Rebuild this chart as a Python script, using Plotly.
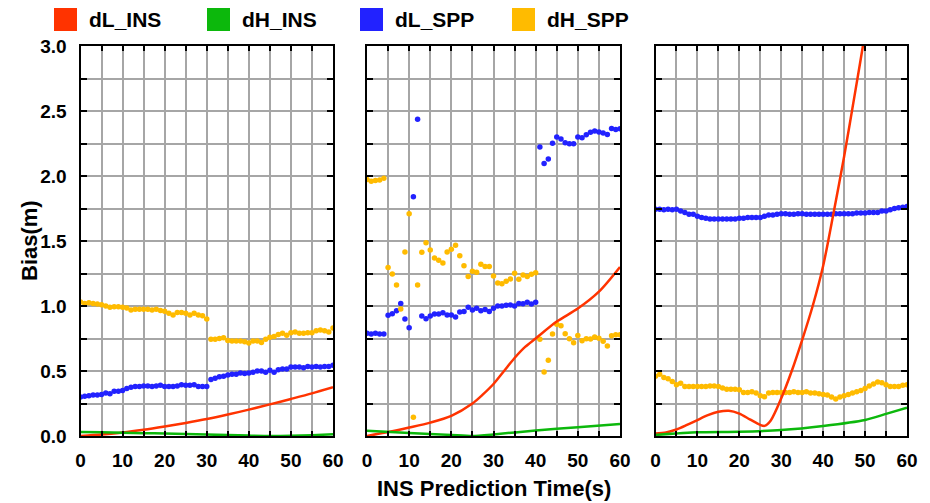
import plotly.graph_objects as go

# ---------------- data ----------------
t_spp = list(range(61))

# Panel 1
p1_dL_spp = [0.30, 0.305, 0.31, 0.315, 0.315, 0.32, 0.33, 0.325, 0.345, 0.345,
             0.35, 0.365, 0.375, 0.38, 0.38, 0.385, 0.385, 0.38, 0.385, 0.39,
             0.38, 0.38, 0.38, 0.385, 0.395, 0.39, 0.39, 0.395, 0.38, 0.38,
             0.38, 0.435, 0.445, 0.455, 0.46, 0.47, 0.475, 0.475, 0.485, 0.48,
             0.485, 0.49, 0.50, 0.50, 0.49, 0.505, 0.49, 0.51, 0.515, 0.515,
             0.53, 0.53, 0.53, 0.525, 0.535, 0.53, 0.535, 0.53, 0.535, 0.535,
             0.545]
p1_dH_spp = [1.03, 1.02, 1.025, 1.02, 1.015, 1.01, 1.0, 0.99, 0.995, 0.995,
             0.99, 0.985, 0.97, 0.975, 0.975, 0.975, 0.975, 0.97, 0.975, 0.965,
             0.96, 0.945, 0.93, 0.95, 0.95, 0.945, 0.93, 0.945, 0.93, 0.925,
             0.90, 0.745, 0.745, 0.75, 0.755, 0.735, 0.73, 0.73, 0.73, 0.725,
             0.715, 0.73, 0.73, 0.72, 0.745, 0.76, 0.765, 0.78, 0.79, 0.775,
             0.795, 0.80, 0.79, 0.79, 0.795, 0.795, 0.81, 0.815, 0.81, 0.80,
             0.83]
p1_t_ins = [0, 5, 10, 15, 20, 25, 30, 35, 40, 45, 50, 55, 60]
p1_dL_ins = [0.0, 0.012, 0.027, 0.048, 0.073, 0.10, 0.13, 0.165, 0.203, 0.243, 0.285, 0.328, 0.375]
p1_dH_ins = [0.03, 0.028, 0.025, 0.022, 0.019, 0.015, 0.011, 0.007, 0.003, 0.0, 0.002, 0.006, 0.013]

# Panel 2
p2_dL_spp = [0.79, 0.785, 0.79, 0.785, 0.785, 0.928, 0.94, 0.964, 1.02, 0.90,
             0.833, 1.84, 2.436, 0.923, 0.902, 0.923, 0.938, 0.938, 0.949, 0.93,
             0.93, 0.915, 0.954, 0.957, 0.99, 0.969, 0.982, 0.964, 0.974, 0.957,
             0.982, 1.0, 1.0, 1.005, 1.008, 1.0, 1.02, 1.018, 1.028, 1.015,
             1.028, 2.223, 2.097, 2.131, 2.251, 2.30, 2.285, 2.256, 2.248, 2.248,
             2.30, 2.295, 2.318, 2.336, 2.346, 2.338, 2.331, 2.32, 2.366, 2.358,
             2.363]
p2_dH_spp = [1.974, 1.96, 1.965, 1.97, 1.982, 1.297, 1.246, 1.162, 0.977, 1.415,
             1.71, 0.144, 1.162, 1.413, 1.487, 1.431, 1.369, 1.351, 1.331, 1.415,
             1.436, 1.467, 1.387, 1.31, 1.226, 1.267, 1.26, 1.321, 1.303, 1.303,
             1.231, 1.177, 1.172, 1.19, 1.208, 1.251, 1.205, 1.238, 1.226, 1.244,
             1.256, 0.744, 0.492, 0.582, 0.785, 0.859, 0.849, 0.787, 0.749, 0.718,
             0.774, 0.733, 0.749, 0.746, 0.762, 0.751, 0.728, 0.692, 0.772, 0.779,
             0.779]
p2_t_ins = [0, 5, 10, 15, 20, 25, 27.5, 30, 32.5, 35, 37.5, 40, 45, 50, 55, 60]
p2_dL_ins = [0.0, 0.03, 0.065, 0.103, 0.155, 0.25, 0.32, 0.40, 0.50, 0.60, 0.685,
             0.75, 0.88, 0.98, 1.11, 1.30]
p2_t_ins_h = [0, 10, 20, 25, 30, 40, 50, 60]
p2_dH_ins = [0.040, 0.023, 0.008, 0.0, 0.012, 0.043, 0.068, 0.092]

# Panel 3
p3_dL_spp = [1.745, 1.745, 1.74, 1.745, 1.74, 1.745, 1.73, 1.72, 1.705, 1.705,
             1.69, 1.68, 1.675, 1.67, 1.67, 1.67, 1.67, 1.67, 1.67, 1.67,
             1.675, 1.675, 1.68, 1.68, 1.68, 1.68, 1.69, 1.70, 1.70, 1.705,
             1.71, 1.71, 1.705, 1.705, 1.71, 1.71, 1.705, 1.705, 1.705, 1.705,
             1.705, 1.705, 1.705, 1.71, 1.71, 1.71, 1.71, 1.71, 1.715, 1.715,
             1.715, 1.72, 1.72, 1.72, 1.73, 1.73, 1.74, 1.75, 1.755, 1.76,
             1.765]
p3_dH_spp = [0.46, 0.475, 0.45, 0.44, 0.42, 0.395, 0.405, 0.38, 0.38, 0.38,
             0.38, 0.38, 0.38, 0.385, 0.385, 0.38, 0.37, 0.36, 0.36, 0.36,
             0.355, 0.335, 0.335, 0.34, 0.33, 0.31, 0.302, 0.33, 0.335, 0.335,
             0.335, 0.335, 0.335, 0.34, 0.335, 0.335, 0.34, 0.33, 0.33, 0.325,
             0.32, 0.315, 0.30, 0.285, 0.30, 0.31, 0.32, 0.33, 0.34, 0.35,
             0.365, 0.385, 0.40, 0.415, 0.41, 0.395, 0.38, 0.38, 0.38, 0.39,
             0.395]
p3_t_ins = [0, 2.5, 5, 7.5, 10, 12.5, 15, 17.5, 20, 22.5, 25, 26, 27.5, 30,
            32.5, 35, 37.5, 40, 42.5, 45, 47.5, 50, 52.5]
p3_dL_ins = [0.02, 0.027, 0.05, 0.085, 0.123, 0.16, 0.186, 0.194, 0.172, 0.128,
             0.085, 0.078, 0.12, 0.29, 0.50, 0.74, 1.0, 1.31, 1.72, 2.15, 2.62, 3.1, 3.6]
p3_t_ins_h = [0, 10, 20, 30, 40, 50, 55, 60]
p3_dH_ins = [0.008, 0.028, 0.033, 0.046, 0.077, 0.123, 0.17, 0.218]

series_names = ["dL_INS", "dH_INS", "dL_SPP", "dH_SPP"]
series_colors = ["#FF3300", "#0CB80C", "#2222FF", "#FFBB00"]
RED, GREEN, BLUE, YELLOW = series_colors

y_ticks = [0.0, 0.5, 1.0, 1.5, 2.0, 2.5, 3.0]
x_ticks = [0, 10, 20, 30, 40, 50, 60]

# ---------------- layout geometry (pixels) ----------------
W, H = 930, 503
panels_px = [(80.5, 333), (367, 620), (655.5, 907)]
y_top_px, y_bot_px = 46, 436


def px_x(p):
    return p / W


def px_y(p):
    return (H - p) / H


FONT = "Liberation Sans, Arial, sans-serif"

fig = go.Figure()

panels = [
    (t_spp, p1_dL_spp, p1_dH_spp, p1_t_ins, p1_dL_ins, p1_t_ins, p1_dH_ins),
    (t_spp, p2_dL_spp, p2_dH_spp, p2_t_ins, p2_dL_ins, p2_t_ins_h, p2_dH_ins),
    (t_spp, p3_dL_spp, p3_dH_spp, p3_t_ins, p3_dL_ins, p3_t_ins_h, p3_dH_ins),
]

for i, (ts, dls, dhs, ti, dli, tih, dhi) in enumerate(panels):
    xa = "x" if i == 0 else f"x{i + 1}"
    ya = "y" if i == 0 else f"y{i + 1}"
    marker = dict(size=5.5)
    fig.add_trace(go.Scatter(x=ts, y=dls, mode="markers", name="dL_SPP",
                             marker=dict(color=BLUE, **marker),
                             xaxis=xa, yaxis=ya, showlegend=False))
    fig.add_trace(go.Scatter(x=ts, y=dhs, mode="markers", name="dH_SPP",
                             marker=dict(color=YELLOW, **marker),
                             xaxis=xa, yaxis=ya, showlegend=False))
    fig.add_trace(go.Scatter(x=ti, y=dli, mode="lines", name="dL_INS",
                             line=dict(color=RED, width=2.5, shape="spline", smoothing=0.8),
                             xaxis=xa, yaxis=ya, showlegend=False))
    fig.add_trace(go.Scatter(x=tih, y=dhi, mode="lines", name="dH_INS",
                             line=dict(color=GREEN, width=2.5, shape="spline", smoothing=0.6),
                             xaxis=xa, yaxis=ya, showlegend=False))

tick_font = dict(family=FONT, size=19, color="black", weight="bold")
grid_col = "#A6A6A6"

layout = dict(
    width=W, height=H, autosize=False,
    margin=dict(l=0, r=0, t=0, b=0, autoexpand=False),
    paper_bgcolor="white", plot_bgcolor="white",
    showlegend=False,
)

for i, (x0, x1) in enumerate(panels_px):
    xkey = "xaxis" if i == 0 else f"xaxis{i + 1}"
    ykey = "yaxis" if i == 0 else f"yaxis{i + 1}"
    ya = "y" if i == 0 else f"y{i + 1}"
    xa = "x" if i == 0 else f"x{i + 1}"
    layout[xkey] = dict(
        domain=[px_x(x0), px_x(x1)], anchor=ya, range=[0, 60], automargin=False,
        tickmode="array", tickvals=x_ticks, ticktext=[str(v) for v in x_ticks],
        ticks="inside", ticklen=5, tickwidth=1.5, tickcolor="black",
        showline=True, linecolor="black", linewidth=2, mirror="ticks",
        showgrid=True, gridcolor=grid_col, gridwidth=1.5, zeroline=False,
        tickfont=tick_font, ticklabelstandoff=6,
        minor=dict(dtick=5, ticks="inside", ticklen=5, tickwidth=1.5, tickcolor="black",
                   showgrid=True, gridcolor=grid_col, gridwidth=1.5),
    )
    layout[ykey] = dict(
        domain=[px_y(y_bot_px), px_y(y_top_px)], anchor=xa, range=[0, 3], automargin=False,
        tickmode="array", tickvals=y_ticks, ticktext=[f"{v:.1f}" for v in y_ticks],
        ticks="inside", ticklen=6, tickwidth=1.5, tickcolor="black",
        showline=True, linecolor="black", linewidth=2, mirror="ticks",
        showgrid=True, gridcolor=grid_col, gridwidth=1.5, zeroline=False,
        tickfont=tick_font, ticklabelstandoff=8,
        showticklabels=(i == 0),
        minor=dict(dtick=0.25, ticks="inside", ticklen=6, tickwidth=1.5, tickcolor="black",
                   showgrid=True, gridcolor=grid_col, gridwidth=1.5),
    )
    if i > 0:
        layout[ykey]["matches"] = "y"

fig.update_layout(**layout)

# Axis titles
fig.add_annotation(text="Bias(m)", xref="paper", yref="paper",
                   x=px_x(29), y=px_y((y_top_px + y_bot_px) / 2), textangle=-90,
                   showarrow=False, xanchor="center", yanchor="middle",
                   font=dict(family=FONT, size=22, color="black", weight="bold"))
fig.add_annotation(text="INS Prediction Time(s)", xref="paper", yref="paper",
                   x=px_x((panels_px[0][0] + panels_px[2][1]) / 2), y=px_y(488),
                   showarrow=False, xanchor="center", yanchor="middle",
                   font=dict(family=FONT, size=22, color="black", weight="bold"))

# Legend row: colour swatches with labels
legend_swatch_x = [54, 207, 360, 512]
for name, col, sx in zip(series_names, series_colors, legend_swatch_x):
    fig.add_shape(type="rect", xref="paper", yref="paper",
                  x0=px_x(sx), x1=px_x(sx + 23), y0=px_y(31), y1=px_y(8),
                  fillcolor=col, line=dict(width=0))
    fig.add_annotation(text=name, xref="paper", yref="paper",
                       x=px_x(sx + 33), y=px_y(19.5), showarrow=False,
                       xanchor="left", yanchor="middle",
                       font=dict(family=FONT, size=21, color="black", weight="bold"))

fig.write_html("out.html")
